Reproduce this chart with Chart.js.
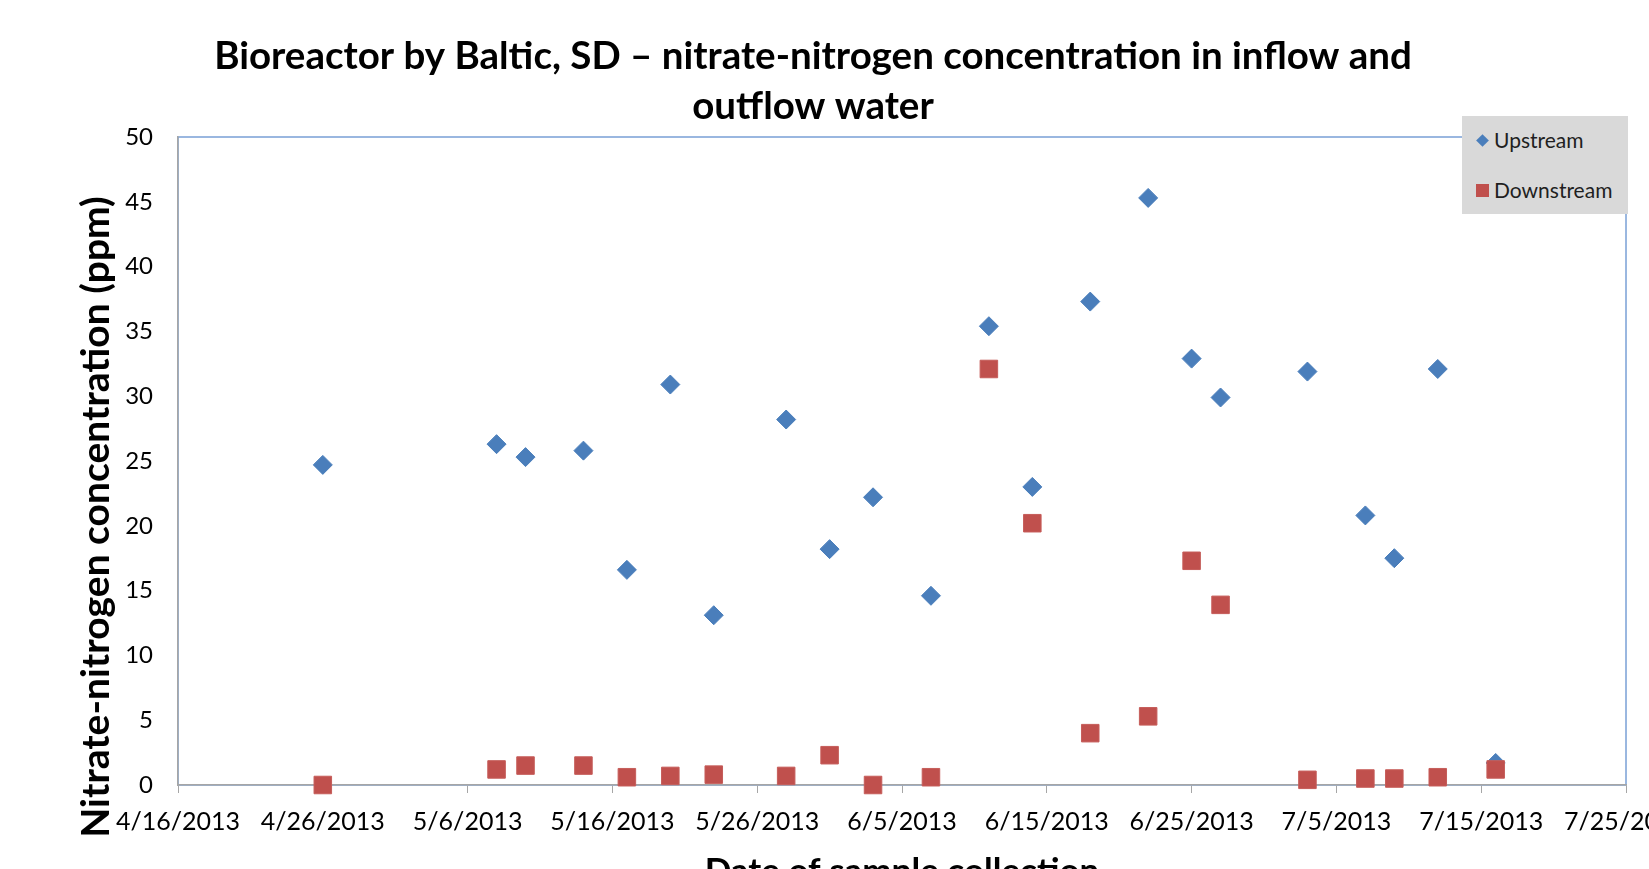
<!DOCTYPE html>
<html>
<head>
<meta charset="utf-8">
<title>Bioreactor by Baltic, SD</title>
<script src="https://cdn.jsdelivr.net/npm/chart.js@4.4.1/dist/chart.umd.min.js"></script>
<style>
  html, body { margin: 0; padding: 0; background: #fff; overflow: hidden; }
  #wrap { position: relative; width: 1649px; height: 900px; }
  #legend {
    position: absolute; left: 1462px; top: 116px; width: 166px; height: 98px;
    background: #d9d9d9; font-family: Lato, sans-serif; font-size: 21px; color: #1f1f1f;
  }
  .item { position: absolute; left: 0; width: 166px; height: 48px; }
  .item span.txt { position: absolute; left: 32px; top: 50%; transform: translateY(-52%); white-space: nowrap; }
  .mark { position: absolute; top: 50%; }
  .mark.diamond { width: 9px; height: 9px; left: 16px; margin-top: -4.5px; transform: rotate(45deg); }
  .mark.square { width: 13px; height: 13px; left: 14px; margin-top: -6.5px; }
</style>
</head>
<body>
<div id="wrap">
  <canvas id="chart" width="1649" height="900"></canvas>
  <div id="legend"></div>
</div>
<script>
// chart data
const xTickLabels = ["4/16/2013", "4/26/2013", "5/6/2013", "5/16/2013", "5/26/2013", "6/5/2013",
  "6/15/2013", "6/25/2013", "7/5/2013", "7/15/2013", "7/25/2013"];
const yTickLabels = ["0", "5", "10", "15", "20", "25", "30", "35", "40", "45", "50"];
const sampleDates = ["4/26/2013", "5/8/2013", "5/10/2013", "5/14/2013", "5/17/2013", "5/20/2013",
  "5/23/2013", "5/28/2013", "5/31/2013", "6/3/2013", "6/7/2013", "6/11/2013", "6/14/2013",
  "6/18/2013", "6/22/2013", "6/25/2013", "6/27/2013", "7/3/2013", "7/7/2013", "7/9/2013",
  "7/12/2013", "7/16/2013"];
const upstream = [24.7, 26.3, 25.3, 25.8, 16.6, 30.9, 13.1, 28.2, 18.2, 22.2, 14.6, 35.4,
  23.0, 37.3, 45.3, 32.9, 29.9, 31.9, 20.8, 17.5, 32.1, 1.7];
const downstream = [0.0, 1.2, 1.5, 1.5, 0.6, 0.7, 0.8, 0.7, 2.3, 0.0, 0.6, 32.1,
  20.2, 4.0, 5.3, 17.3, 13.9, 0.4, 0.5, 0.5, 0.6, 1.2];
const seriesNames = ["Upstream", "Downstream"];

const chartTitle = ["Bioreactor by Baltic, SD \u2013 nitrate-nitrogen concentration in inflow and", "outflow water"];
const xAxisTitle = "Date of sample collection";
const yAxisTitle = "Nitrate-nitrogen concentration (ppm)";

const DAY = 86400000;
function parseDate(s) {
  const [m, d, y] = s.split("/").map(Number);
  return Date.UTC(y, m - 1, d);
}
const startDate = parseDate(xTickLabels[0]);
function dayOf(s) {
  return (parseDate(s) - startDate) / DAY;
}

const axisGray = "#a6a6a6";
const frameBlue = "#7aa0d6";

Chart.defaults.font.family = "Lato";
Chart.defaults.color = "#000";

// blue plot-area frame, drawn first so the gray axes sit on top of it
const plotFrame = {
  id: "plotFrame",
  beforeDraw(chart) {
    const { ctx, chartArea: a } = chart;
    ctx.save();
    ctx.strokeStyle = frameBlue;
    ctx.lineWidth = 1.5;
    ctx.strokeRect(a.left, a.top, a.right - a.left, a.bottom - a.top);
    ctx.restore();
  }
};

// y axis title sits lower than the plot centre in the original
const yTitle = {
  id: "yTitle",
  afterDraw(chart) {
    const ctx = chart.ctx;
    ctx.save();
    ctx.translate(96, 517);
    ctx.rotate(-Math.PI / 2);
    ctx.font = "bold 39px Lato";
    ctx.fillStyle = "#000";
    ctx.textAlign = "center";
    ctx.textBaseline = "middle";
    ctx.fillText(yAxisTitle, 0, 0);
    ctx.restore();
  }
};

const ctx = document.getElementById("chart").getContext("2d");
const chart = new Chart(ctx, {
  type: "scatter",
  data: {
    datasets: [
      {
        label: seriesNames[0],
        data: sampleDates.map((d, i) => ({ x: dayOf(d), y: upstream[i] })),
        pointStyle: "rectRot",
        pointRadius: 9.5,
        pointHoverRadius: 9.5,
        backgroundColor: "#4a7ebb",
        borderColor: "#4a7ebb",
        borderWidth: 1,
        clip: false,
        order: 1
      },
      {
        label: seriesNames[1],
        data: sampleDates.map((d, i) => ({ x: dayOf(d), y: downstream[i] })),
        pointStyle: "rect",
        pointRadius: 12.4,
        pointHoverRadius: 12.4,
        backgroundColor: "#c0504d",
        borderColor: "#c65d5a",
        borderWidth: 1,
        clip: false,
        order: 0
      }
    ]
  },
  options: {
    responsive: false,
    animation: false,
    events: [],
    layout: { padding: { left: 0, right: 23, top: 0, bottom: 0 } },
    plugins: {
      legend: { display: false },
      tooltip: { enabled: false },
      title: {
        display: true,
        text: chartTitle,
        color: "#000",
        font: { family: "Lato", weight: "bold", size: 38.5, lineHeight: 50 / 38.5 },
        padding: { top: 32, bottom: 5 }
      }
    },
    scales: {
      x: {
        type: "linear",
        min: 0,
        max: dayOf(xTickLabels[xTickLabels.length - 1]),
        afterFit(s) {
          s.height = 115;
          s.paddingLeft = 0;
          s.paddingRight = 0;
        },
        ticks: {
          stepSize: 10,
          autoSkip: false,
          maxRotation: 0,
          padding: 14,
          color: "#000",
          font: { family: "Lato", size: 25 },
          callback: (v) => xTickLabels.find((l) => dayOf(l) === v) || ""
        },
        grid: { display: true, drawOnChartArea: false, drawTicks: true, tickLength: 8, color: axisGray },
        border: { display: true, color: axisGray, width: 1.5 },
        title: {
          display: true,
          text: xAxisTitle,
          color: "#000",
          font: { family: "Lato", weight: "bold", size: 35, lineHeight: 1.2 },
          padding: { top: 0, bottom: 7 }
        }
      },
      y: {
        min: 0,
        max: 50,
        afterFit(s) {
          s.width = 178;
          s.paddingTop = 0;
          s.paddingBottom = 0;
        },
        ticks: {
          stepSize: 5,
          padding: 25,
          color: "#000",
          font: { family: "Lato", size: 24 },
          callback: (v) => yTickLabels[Math.round(v / 5)]
        },
        grid: { display: false, drawTicks: false },
        border: { display: true, color: axisGray, width: 1.5 }
      }
    }
  },
  plugins: [plotFrame, yTitle]
});

// legend box, built from the chart's datasets
const legendBox = document.getElementById("legend");
chart.data.datasets.forEach((ds, i) => {
  const row = document.createElement("div");
  row.className = "item";
  row.style.top = (i * 50) + "px";
  const mark = document.createElement("span");
  mark.className = "mark " + (ds.pointStyle === "rectRot" ? "diamond" : "square");
  mark.style.background = ds.backgroundColor;
  const txt = document.createElement("span");
  txt.className = "txt";
  txt.textContent = ds.label;
  row.appendChild(mark);
  row.appendChild(txt);
  legendBox.appendChild(row);
});
</script>
</body>
</html>
